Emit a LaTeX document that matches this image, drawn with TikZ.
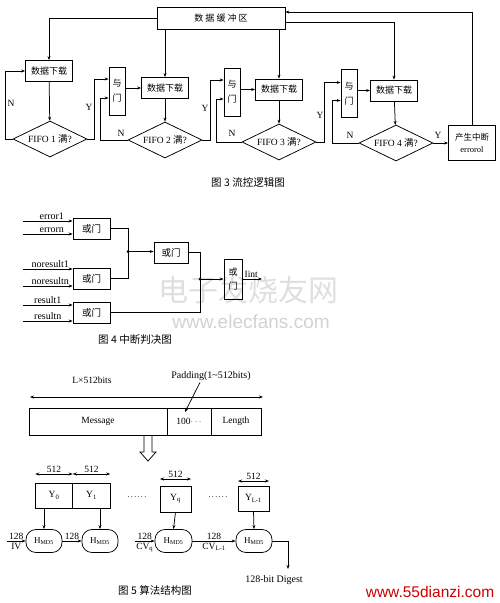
\documentclass[tikz,border=0pt]{standalone}
\usepackage{fontspec}
\setmainfont{Liberation Serif}
\newfontfamily\cjk{Noto Sans CJK SC}
\newfontfamily\wmfont{Liberation Sans}
\usetikzlibrary{arrows.meta,shapes.geometric,positioning}
\tikzset{every picture/.style={line width=0.75pt}}
\newcommand{\zh}[1]{{\cjk #1}}
\tikzset{
  flowbox/.style={draw, inner sep=0pt, minimum width=47pt, minimum height=21pt, font=\cjk\fontsize{9}{10}\selectfont},
  andgate/.style={draw, inner sep=0pt, minimum width=16pt, minimum height=48pt, align=center, font=\cjk\fontsize{9}{15}\selectfont},
  fifo/.style={diamond, draw, aspect=2, inner sep=0pt, minimum width=74pt, minimum height=36pt, font=\fontsize{9.5}{10}\selectfont},
  orgate/.style={draw, inner sep=0pt, minimum width=37pt, minimum height=21pt, font=\cjk\fontsize{9.5}{10}\selectfont},
  cell/.style={draw, inner sep=0pt, outer sep=0pt, minimum height=27pt, font=\fontsize{9.5}{10}\selectfont},
  md/.style={draw, rounded corners=10pt, inner sep=0pt, minimum width=36pt, minimum height=23pt, font=\fontsize{9}{10}\selectfont},
  lab/.style={font=\fontsize{9.5}{10}\selectfont, inner sep=1.5pt},
  inlab/.style={font=\fontsize{10}{10}\selectfont, inner sep=1pt},
  figcap/.style={font=\cjk\fontsize{10.5}{11}\selectfont}
}

\begin{document}
\begin{tikzpicture}[x=1pt, y=-1pt, >={Stealth[length=4pt,width=3pt]}]
    \useasboundingbox (0,0) rectangle (500,603);

    % 水印
    \node[text=gray!25, font=\cjk\fontsize{30}{32}\selectfont] (wm1) at (248,290) {电子发烧友网};
    \node[text=gray!35, font=\wmfont\fontsize{19}{20}\selectfont] (wm2) at (251,322) {www.elecfans.com};
    \node[text=red!80!black, font=\wmfont\fontsize{15.5}{16}\selectfont] (wm3) at (430,592) {www.55dianzi.com};

    % 图3 流控逻辑图
    \node[flowbox, minimum width=128pt, minimum height=22pt] (buf) at (221,18) {数 据 缓 冲 区};
    \node[flowbox] (dl1) at (49,71) {数据下载};
    \node[flowbox] (dl2) at (165,88) {数据下载};
    \node[flowbox] (dl3) at (279,89.5) {数据下载};
    \node[flowbox] (dl4) at (394,90.5) {数据下载};
    \node[andgate] (and1) at (117,91) {与\\门};
    \node[andgate] (and2) at (232,92) {与\\门};
    \node[andgate] (and3) at (349,93.5) {与\\门};
    \node[fifo] (f1) at (50,139) {FIFO 1 \zh{满}?};
    \node[fifo] (f2) at (165,140) {FIFO 2 \zh{满}?};
    \node[fifo] (f3) at (279,142) {FIFO 3 \zh{满}?};
    \node[fifo] (f4) at (396,143) {FIFO 4 \zh{满}?};
    \node[flowbox, minimum height=35pt, align=center, font=\cjk\fontsize{8.5}{12}\selectfont] (irq) at (472,142.5) {产生中断\\{\rmfamily errorol}};

    % 缓冲区到各下载框
    \draw[->] (buf.west) -| (dl1.north);
    \draw[->] (buf.south -| dl2.north) -- (dl2.north);
    \draw[->] (buf.south -| dl3.north) -- (dl3.north);
    \draw[->] ([yshift=-4pt]buf.east) -| (dl4.north);
    \draw[->] (irq.north) |- ([yshift=6pt]buf.east);

    % 下载框到判断
    \draw[->] (dl1) -- (f1);
    \draw[->] (dl2) -- (f2);
    \draw[->] (dl3) -- (f3);
    \draw[->] (dl4) -- (f4);

    % Y / N 分支
    \draw[->] (f1.west) -- ++(-7,0) |- (dl1.west);
    \draw[->] (f1.east) -- ++(7,0) |- ([yshift=12pt]and1.west);
    \draw[->] (f2.west) -- ++(-27,0) |- ([yshift=-7pt]and1.west);
    \draw[->] (f2.east) -- ++(8,0) |- ([yshift=12pt]and2.west);
    \draw[->] (f3.west) -- ++(-25,0) |- ([yshift=-7pt]and2.west);
    \draw[->] (f3.east) -- ++(8,0) |- ([yshift=11pt]and3.west);
    \draw[->] (f4.west) -- ++(-26,0) |- ([yshift=-7pt]and3.west);
    \draw[->] (f4.east) -- (irq.west |- f4.east);
    \draw[->] (and1.east |- dl2.west) -- (dl2.west);
    \draw[->] (and2.east |- dl3.west) -- (dl3.west);
    \draw[->] (and3.east |- dl4.west) -- (dl4.west);
    \node[lab] (n1) at (11,103) {N};
    \node[lab] (y1l) at (89,107) {Y};
    \node[lab] (n2) at (121,133) {N};
    \node[lab] (y2l) at (205,108) {Y};
    \node[lab] (n3) at (232,133) {N};
    \node[lab] (y3l) at (320,115) {Y};
    \node[lab] (n4) at (350,135) {N};
    \node[lab] (y4l) at (438,135) {Y};
    \node[figcap] (cap3) at (248,183) {图 3 流控逻辑图};

    % 图4 中断判决图
    \node[orgate] (or1) at (91.5,228.5) {或门};
    \node[orgate] (or2) at (91.5,278.5) {或门};
    \node[orgate] (or3) at (91.5,312.5) {或门};
    \node[orgate, minimum width=34pt] (or4) at (171,252.5) {或门};
    \node[orgate, minimum width=18pt, minimum height=40pt, align=center, font=\cjk\fontsize{9}{14}\selectfont] (or5) at (233,279) {或\\门};
    \coordinate (e1) at (23,221);
    \coordinate (e2) at (23,234);
    \coordinate (e3) at (23,269);
    \coordinate (e4) at (23,286);
    \coordinate (e5) at (23,305);
    \coordinate (e6) at (23,321);
    \draw[->] (e1) -- node[inlab, above, pos=0.58] {error1} (e1 -| or1.west);
    \draw[->] (e2) -- node[inlab, above, pos=0.58] {errorn} (e2 -| or1.west);
    \draw[->] (e3) -- node[inlab, above, pos=0.55] {noresult1} (e3 -| or2.west);
    \draw[->] (e4) -- node[inlab, above, pos=0.55] {noresultn} (e4 -| or2.west);
    \draw[->] (e5) -- node[inlab, above, pos=0.5] {result1} (e5 -| or3.west);
    \draw[->] (e6) -- node[inlab, above, pos=0.5] {resultn} (e6 -| or3.west);
    \coordinate (jn1) at (128,251.5);
    \coordinate (jn2) at (200,279);
    \draw (or1.east) -| (jn1);
    \draw (or2.east) -| (jn1);
    \fill (jn1) circle (1.5pt);
    \draw[->] (jn1) -- (jn1 -| or4.west);
    \draw (or4.east) -| (jn2);
    \draw (or3.east) -| (jn2);
    \fill (jn2) circle (1.5pt);
    \draw[->] (jn2) -- (or5.west);
    \coordinate (iint) at (262,279);
    \draw[->] (or5.east) -- node[lab, above, pos=0.45] {Iint} (iint);
    \node[figcap] (cap4) at (135,340) {图 4 中断判决图};

    % 图5 算法结构图
    \node[lab] (lx) at (92,380) {L×512bits};
    \coordinate (la) at (30,397);
    \coordinate (lb) at (263,397);
    \draw[<->] (la) -- (lb);
    \node[cell, minimum width=138pt] (msg) at (98,421.5) {Message};
    \node[cell, minimum width=44pt, right=0pt of msg] (pad) {100$\cdots$};
    \node[cell, minimum width=50pt, right=0pt of pad] (len) {Length};
    \node[lab, font=\fontsize{10}{10}\selectfont] (padl) at (211,376) {Padding(1\textasciitilde512bits)};
    \draw[->] ([xshift=-11pt]padl.south) -- ([xshift=-4pt,yshift=-4pt]pad.north);
    \draw (144,435) -- (144,452) -- (140,452) -- (148,461) -- (156,452) -- (152,452) -- (152,435);

    \node[cell, minimum width=37.5pt, minimum height=25pt] (y0) at (54,495.5) {Y\textsubscript{0}};
    \node[cell, minimum width=37.5pt, minimum height=25pt, right=0pt of y0] (y1) {Y\textsubscript{1}};
    \node[cell, minimum width=31pt, minimum height=26pt] (yq) at (175.5,499) {Y\textsubscript{q}};
    \node[cell, minimum width=31pt, minimum height=25pt] (yl) at (253.5,498.5) {Y\textsubscript{L-1}};
    \draw[<->] ([yshift=9pt]y0.north west) -- node[lab, above] {512} ([yshift=9pt]y0.north east);
    \draw[<->] ([yshift=9pt]y1.north west) -- node[lab, above] {512} ([yshift=9pt]y1.north east);
    \draw[<->] ([yshift=7pt]yq.north west) -- node[lab, above] {512} ([yshift=7pt]yq.north east);
    \draw[<->] ([yshift=5pt]yl.north west) -- node[lab, above] {512} ([yshift=5pt]yl.north east);
    \node[lab, font=\fontsize{8}{9}\selectfont] (dots1) at (137,497) {.\,.\,.\,.\,.\,.};
    \node[lab, font=\fontsize{8}{9}\selectfont] (dots2) at (218,497) {.\,.\,.\,.\,.\,.};

    \node[md] (h1) at (44,541) {H\textsubscript{MD5}};
    \node[md] (h2) at (100,541) {H\textsubscript{MD5}};
    \node[md, minimum width=37pt] (h3) at (173.5,541) {H\textsubscript{MD5}};
    \node[md] (h4) at (254,541) {H\textsubscript{MD5}};
    \draw[->] (y0.south -| h1.north) -- (h1.north);
    \draw[->] (y1.south -| h2.north) -- (h2.north);
    \draw[->] (yq.south) -- (h3.north);
    \draw[->] (yl.south) -- (h4.north);
    \coordinate (iv) at (7,541);
    \coordinate (cvq) at (135,541);
    \draw[->] (iv) -- node[lab, above] {128} node[lab, below] {IV} (h1.west);
    \draw[->] (h1) -- node[lab, above] {128} (h2);
    \draw[->] (cvq) -- node[lab, above] {128} node[lab, below] {CV\textsubscript{q}} (h3.west);
    \draw[->] (h3) -- node[lab, above] {128} node[lab, below] {CV\textsubscript{L-1}} (h4);
    \coordinate (dg) at (288,569);
    \draw[->] (h4.east) -| (dg);
    \node[lab, font=\fontsize{10}{10}\selectfont] (dgl) at (274,580) {128-bit Digest};
    \node[figcap] (cap5) at (155,590) {图 5 算法结构图};
\end{tikzpicture}
\end{document}
